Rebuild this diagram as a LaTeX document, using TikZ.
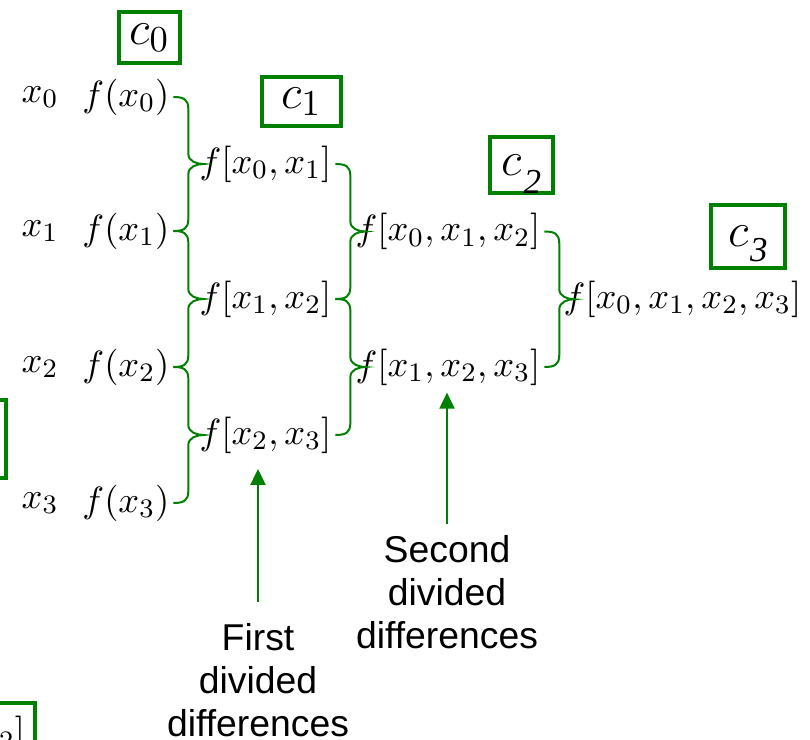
\documentclass[tikz,border=0pt]{standalone}
\usepackage{amsmath}
\usepackage{fontspec}
\usepackage{xcolor}
\usepackage{tikz}
\usetikzlibrary{arrows.meta, positioning, calc}
\newfontfamily\labelfont{Liberation Sans}
\newfontfamily\digitfont{Liberation Serif}
\definecolor{diffgreen}{RGB}{0,128,0}
\tikzstyle{entry} = [inner sep=0pt, font=\fontsize{11}{13}\selectfont]
\tikzstyle{coefbox} = [draw=diffgreen, line width=1.2pt, inner sep=0pt, font=\fontsize{15}{18}\selectfont]
\tikzstyle{diffbrace} = [draw=diffgreen, line width=0.6pt, to path={
    (\tikztostart) .. controls +(10,0) and +(0,-10) .. ($(\tikztostart)+(15,12)$)
    -- ($(\tikztostart)!0.5!(\tikztotarget)+(15,-10)$)
    .. controls +(0,7) and +(-7,0) .. ($(\tikztostart)!0.5!(\tikztotarget)+(30,0)$)
    .. controls +(-7,0) and +(0,-7) .. ($(\tikztostart)!0.5!(\tikztotarget)+(15,10)$)
    -- ($(\tikztotarget)+(15,-12)$)
    .. controls +(0,10) and +(10,0) .. (\tikztotarget)}]
\tikzstyle{arrow} = [draw=diffgreen, line width=0.6pt, -{Triangle[width=4.5pt,length=4.8pt]}]
\tikzstyle{caption} = [align=center, font=\labelfont\fontsize{11.2}{12.9}\selectfont]
\newcommand{\oddsub}[2]{\kern0.5pt\raisebox{-#2}[0pt][0pt]{\digitfont\itshape\fontsize{10.5}{12}\selectfont #1}}

\begin{document}
\begin{tikzpicture}[x=0.3pt, y=-0.3pt]
    \useasboundingbox (0,0) rectangle (810,739);
    \clip (0,0) rectangle (810,739);
    % data points
    \node [entry] (x0) at (40,97) {$x_0$};
    \node [entry] (x1) at (40,231) {$x_1$};
    \node [entry] (x2) at (40,367) {$x_2$};
    \node [entry] (x3) at (40,503) {$x_3$};
    \node [entry, anchor=east] (fx0) at (170,97) {$f(x_0)$};
    \node [entry, anchor=east] (fx1) at (170,231) {$f(x_1)$};
    \node [entry, anchor=east] (fx2) at (170,367) {$f(x_2)$};
    \node [entry, anchor=east] (fx3) at (170,503) {$f(x_3)$};
    % divided differences
    \node [entry, anchor=west] (fx01) at (199,164) {$f[x_0,x_1]$};
    \node [entry, anchor=west] (fx12) at (199,299) {$f[x_1,x_2]$};
    \node [entry, anchor=west] (fx23) at (199,435) {$f[x_2,x_3]$};
    \node [entry, anchor=west] (fx012) at (355,231.5) {$f[x_0,x_1,x_2]$};
    \node [entry, anchor=west] (fx123) at (355,367) {$f[x_1,x_2,x_3]$};
    \node [entry, anchor=west] (fx0123) at (563,299) {$f[x_0,x_1,x_2,x_3]$};
    \draw [diffbrace] ([xshift=1pt]fx0.east) to ([xshift=1pt]fx1.east);
    \draw [diffbrace] ([xshift=1pt]fx1.east) to ([xshift=1pt]fx2.east);
    \draw [diffbrace] ([xshift=1pt]fx2.east) to ([xshift=1pt]fx3.east);
    \draw [diffbrace] ([xshift=1pt]fx01.east) to ([xshift=1pt]fx12.east);
    \draw [diffbrace] ([xshift=1pt]fx12.east) to ([xshift=1pt]fx23.east);
    \draw [diffbrace] ([xshift=1pt]fx012.east) to ([xshift=1pt]fx123.east);
    % coefficients
    \node [coefbox, minimum width=18.5pt, minimum height=15.5pt] (c0) at (149.5,37.5) {$c_0$};
    \node [coefbox, minimum width=23.7pt, minimum height=14.7pt] (c1) at (301.5,101.5) {$c_1$};
    \node [coefbox, minimum width=19pt, minimum height=16.8pt] (c2) at (521.5,165) {$c$\oddsub{2}{5.5pt}};
    \node [coefbox, minimum width=22.2pt, minimum height=18.9pt] (c3) at (748,236.5) {$c$\oddsub{3}{4.5pt}};
    \node [coefbox, minimum width=22.2pt, minimum height=23.4pt] (cleft) at (-31,439) {};
    \node [coefbox, anchor=north east, inner xsep=3pt, inner ysep=4pt, font=\fontsize{11}{13}\selectfont] (cbottom) at (37,701) {$f[x_0,x_1,x_2]$};
    % captions
    \node [caption] (firstlbl) at (258,680) {First\\divided\\differences};
    \node [caption] (secondlbl) at (447,592) {Second\\divided\\differences};
    \draw [arrow] ([yshift=3pt]firstlbl.north) -- ([yshift=-4.5pt]firstlbl.north |- fx23.south);
    \draw [arrow] (secondlbl.north) -- ([yshift=-2pt]secondlbl.north |- fx123.south);
\end{tikzpicture}
\end{document}
